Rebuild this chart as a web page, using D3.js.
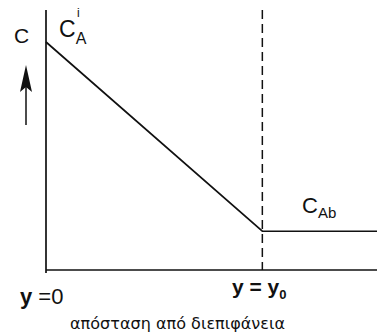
<!DOCTYPE html>
<html>
<head>
<meta charset="utf-8">
<script src="https://cdn.jsdelivr.net/npm/d3@7"></script>
<style>
  html, body { margin: 0; padding: 0; background: #fff; }
  svg { display: block; }
  text { font-family: "Liberation Sans", Arial, sans-serif; fill: #111; }
</style>
</head>
<body>
<svg id="chart" width="377" height="334"></svg>
<script>
// Concentration profile across the film: distance (in units of y0) vs concentration (relative to C_A^i)
const profileDistance = [0, 1, 1.53];
const profileConc = [1, 0.17, 0.17];
const boundaryDistance = [1];
const tickLabels = ["y =0", "y = y"];
const axisTitle = "απόσταση  από διεπιφάνεια";

const svg = d3.select("#chart");
const stroke = "#111";

const x = d3.scaleLinear().domain([0, 1.53]).range([46, 377]);
const c = d3.scaleLinear().domain([0, 1]).range([270, 42]);

// axes
svg.append("line")
  .attr("x1", x(0)).attr("x2", x(0))
  .attr("y1", 10).attr("y2", c(0) + 3)
  .attr("stroke", stroke).attr("stroke-width", 1.7);
svg.append("line")
  .attr("x1", x(0)).attr("x2", x(1.53))
  .attr("y1", c(0)).attr("y2", c(0))
  .attr("stroke", stroke).attr("stroke-width", 1.7);

// film boundary y = y0
svg.selectAll("line.boundary").data(boundaryDistance).join("line")
  .attr("class", "boundary")
  .attr("x1", d => x(d)).attr("x2", d => x(d))
  .attr("y1", 10).attr("y2", c(0))
  .attr("stroke", stroke).attr("stroke-width", 1.5)
  .attr("stroke-dasharray", "9,5");

// concentration profile
const line = d3.line().x(d => x(d[0])).y(d => c(d[1]));
svg.append("path")
  .datum(d3.zip(profileDistance, profileConc))
  .attr("d", line)
  .attr("fill", "none")
  .attr("stroke", stroke).attr("stroke-width", 1.7);

// upward arrow beside the C label
svg.append("line")
  .attr("x1", 26).attr("x2", 26)
  .attr("y1", 125).attr("y2", 80)
  .attr("stroke", stroke).attr("stroke-width", 1.5);
svg.append("path")
  .attr("d", "M26,65 L32,92 L26,87 L20,92 Z")
  .attr("fill", stroke);

// labels
svg.append("text").attr("x", 14).attr("y", 43)
  .attr("font-size", 21).text("C");

const cai = svg.append("text").attr("x", 59).attr("y", 37).attr("font-size", 23);
cai.append("tspan").text("C");
cai.append("tspan").attr("font-size", 16).attr("dy", 7).text("A");
svg.append("text").attr("x", 77).attr("y", 17).attr("font-size", 12).text("i");

const cab = svg.append("text").attr("x", 302).attr("y", 213).attr("font-size", 22);
cab.append("tspan").text("C");
cab.append("tspan").attr("font-size", 15).attr("dy", 5).text("Ab");

const t0 = svg.append("text").attr("x", 20).attr("y", 304).attr("font-size", 22);
t0.append("tspan").attr("font-weight", "bold").text(tickLabels[0].slice(0, 1));
t0.append("tspan").text(tickLabels[0].slice(1));

const y0 = svg.append("text").attr("x", 232).attr("y", 294)
  .attr("font-size", 21).attr("font-weight", "bold");
y0.append("tspan").text(tickLabels[1]);
y0.append("tspan").attr("font-size", 13).attr("dy", 5).text("0");

svg.append("text").attr("x", 70).attr("y", 329)
  .attr("font-size", 16)
  .attr("textLength", 215)
  .style("font-family", "'DejaVu Sans', sans-serif")
  .text(axisTitle);
</script>
</body>
</html>
